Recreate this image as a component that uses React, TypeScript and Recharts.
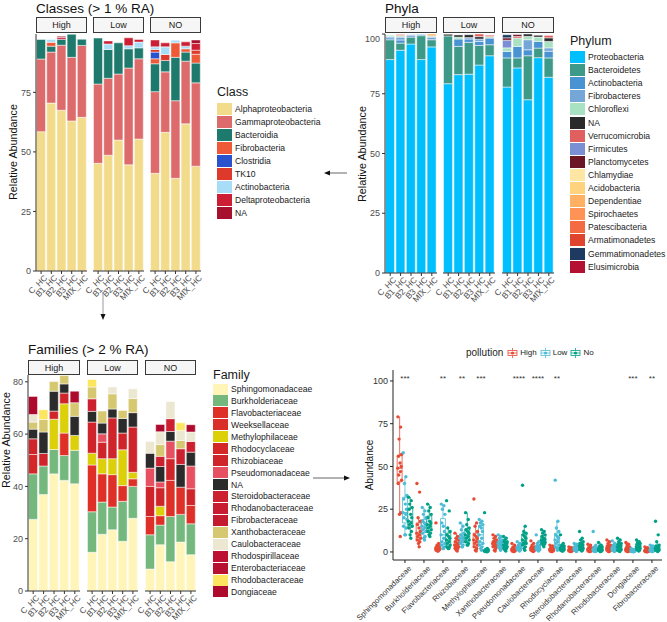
import React from 'react';
import { BarChart, Bar, XAxis, YAxis, ComposedChart, Scatter, ReferenceArea, ReferenceLine } from 'recharts';

const FONT = '"Liberation Sans", Arial, Helvetica, sans-serif';
const AXIS_TEXT = '#4d4d4d';
const AXIS_LINE = '#333333';

const SAMPLES = ['C_HC', 'B1_HC', 'B2_HC', 'B3_HC', 'MIX_HC'];
const FACETS = ['High', 'Low', 'NO'];

// ---- Classes (> 1 % RA) : 15 values = High x5 | Low x5 | NO x5 ----
const CLASS_NAMES = ['Alphaproteobacteria', 'Gammaproteobacteria', 'Bacteroidia', 'Fibrobacteria', 'Clostridia', 'TK10', 'Actinobacteria', 'Deltaproteobacteria', 'NA'];
const CLASS_COLORS = ['#F2DC8C', '#DD6B6B', '#1E7A6C', '#EE5A38', '#2952CC', '#DD3A2C', '#A7DDF7', '#CC1F35', '#A6122E'];
const alphaproteobacteria = [58.5, 70.5, 67.5, 63, 64.5, 45.2, 48.6, 55, 44.6, 55.4, 41, 58.2, 38.9, 61.8, 44];
const gammaproteobacteria = [30.5, 21.4, 27.3, 26.7, 30.2, 33.3, 32.3, 27.7, 40.6, 33.7, 34.3, 25.4, 32.6, 26.3, 35];
const bacteroidia = [8.2, 2.5, 2.5, 9.7, 2.6, 19.3, 12.1, 13.1, 8.1, 4.6, 11.7, 4.8, 18.2, 3.8, 8.3];
const fibrobacteria = [0, 1.6, 0, 0, 0, 0, 0, 0, 0, 0, 2.1, 0, 6.1, 1.4, 3.7];
const clostridia = [0, 0, 0, 0, 0, 0, 0, 0, 0, 0, 2.8, 0, 0, 0, 0];
const tk10 = [0, 0, 0, 0, 0, 0, 0, 0, 0, 0, 1.1, 2.5, 0, 0, 1.7];
const actinobacteria = [0, 1.2, 0, 0, 0, 0, 2.3, 0, 1.3, 2.4, 1.1, 3.2, 1.1, 1.1, 0];
const deltaproteobacteria = [0, 0, 0.8, 0, 0, 0, 1.3, 0, 3.3, 1.1, 2.9, 1.7, 0, 1.8, 2.8];
const classNA = [0, 0, 0.5, 0, 0, 0, 0, 0, 0, 0, 0, 0, 0, 0, 1.5];
const CLASS_VALUES = [alphaproteobacteria, gammaproteobacteria, bacteroidia, fibrobacteria, clostridia, tk10, actinobacteria, deltaproteobacteria, classNA];

// ---- Phyla ----
const PHYLUM_NAMES = ['Proteobacteria', 'Bacteroidetes', 'Actinobacteria', 'Fibrobacteres', 'Chloroflexi', 'NA', 'Verrucomicrobia', 'Firmicutes', 'Planctomycetes', 'Chlamydiae', 'Acidobacteria', 'Dependentiae', 'Spirochaetes', 'Patescibacteria', 'Armatimonadetes', 'Gemmatimonadetes', 'Elusimicrobia'];
const PHYLUM_COLORS = ['#00BFFF', '#3D9A88', '#4A93D2', '#74A6D8', '#A8E2C2', '#2A2A2A', '#E06060', '#7B8FD4', '#6B1525', '#FFE7A3', '#FFD27D', '#FFB062', '#FF9355', '#F46A42', '#E0432E', '#1E3A60', '#B31032'];
const proteobacteria = [89.3, 93.2, 95.8, 89.3, 94.6, 79.2, 83, 83.2, 87, 90.9, 77.8, 85.8, 72.5, 90.1, 81.9];
const bacteroidetes = [8.3, 3, 2.9, 10, 3, 20, 11.8, 13.3, 8.2, 4.6, 12.2, 4.2, 18.4, 4, 8.1];
const actinobacteriaP = [0.8, 1.3, 0.6, 0.5, 0, 0, 3.1, 1.4, 1.7, 2.8, 2.7, 4.8, 2.5, 2.8, 2.8];
const fibrobacteres = [0.6, 1.2, 0, 0, 1.1, 0, 0, 0.6, 1, 0, 0, 0, 4.2, 0, 1.4];
const chloroflexi = [0.5, 0.6, 0, 0, 0.5, 0, 0.8, 0, 0, 0.6, 1.5, 3.5, 1.4, 1.8, 2.7];
const phylumNA = [0, 0, 0, 0, 0, 0.7, 0.9, 1.2, 1, 0, 0, 0, 1, 0.8, 1.5];
const verrucomicrobia = [0, 0.4, 0, 0, 0, 0, 0, 0, 1.5, 0.6, 0, 0.7, 0, 0, 1];
const firmicutes = [0, 0, 0.4, 0, 0, 0, 0, 0, 0, 0, 3.2, 0, 0, 0, 0];
const planctomycetes = [0, 0, 0, 0, 0, 0, 0, 0, 0, 0, 1, 0.8, 0, 0, 0];
const chlamydiae = [0, 0, 0, 0, 0, 0, 0, 0, 0, 0, 0, 0, 0, 0, 0];
const acidobacteria = [0, 0, 0, 0, 0, 0, 0, 0, 0, 0, 0, 0, 0, 0, 0];
const dependentiae = [0, 0, 0, 0, 0.8, 0, 0, 0, 0, 0, 0, 0, 0, 0, 0];
const spirochaetes = [0, 0, 0, 0, 0, 0, 0, 0, 0, 0, 0, 0, 0, 0, 0];
const patescibacteria = [0, 0.3, 0, 0, 0, 0, 0, 0, 0, 0, 0, 0, 0, 0, 0];
const armatimonadetes = [0, 0, 0, 0, 0, 0, 0, 0, 0, 0, 0, 0, 0, 0, 0];
const gemmatimonadetes = [0, 0, 0, 0, 0, 0, 0, 0, 0, 0, 1.3, 0, 0, 0, 0];
const elusimicrobia = [0, 0, 0, 0, 0, 0, 0, 0, 0, 0, 0, 0, 0, 0, 0];
const PHYLUM_VALUES = [proteobacteria, bacteroidetes, actinobacteriaP, fibrobacteres, chloroflexi, phylumNA, verrucomicrobia, firmicutes, planctomycetes, chlamydiae, acidobacteria, dependentiae, spirochaetes, patescibacteria, armatimonadetes, gemmatimonadetes, elusimicrobia];

// ---- Families (> 2 % RA) ----
const FAMILY_NAMES = ['Sphingomonadaceae', 'Burkholderiaceae', 'Flavobacteriaceae', 'Weeksellaceae', 'Methylophilaceae', 'Rhodocyclaceae', 'Rhizobiaceae', 'Pseudomonadaceae', 'NA', 'Steroidobacteraceae', 'Rhodanobacteraceae', 'Fibrobacteraceae', 'Xanthobacteraceae', 'Caulobacteraceae', 'Rhodospirillaceae', 'Enterobacteriaceae', 'Rhodobacteraceae', 'Dongiaceae'];
const FAMILY_COLORS = ['#FFF5B8', '#74B87E', '#DF3028', '#DA2E2A', '#DCD00A', '#D42828', '#CF242A', '#E65060', '#2B2B2B', '#CC2030', '#C81A30', '#C41A30', '#D6C870', '#EBE7D0', '#BE1030', '#B81030', '#FCE660', '#AE0A2E'];
const sphingomonadaceae = [27.4, 36.9, 44.8, 42.3, 41, 14.8, 21.7, 23.4, 19, 27.8, 8.4, 17.7, 11.2, 18.7, 13.9];
const burkholderiaceae = [17.4, 10.9, 9.3, 9.5, 12.8, 15.5, 12.3, 8.7, 15.3, 12.2, 13.1, 7.5, 17.3, 10.6, 11.8];
const flavobacteriaceae = [0, 0, 0, 8.6, 0, 17.9, 10.8, 12.4, 6, 2.9, 7, 3.6, 13.8, 10.4, 7];
const weeksellaceae = [0, 0, 0, 0, 0, 0, 0, 0, 0, 0, 0, 0, 0, 0, 0];
const methylophilaceae = [0, 0, 11.6, 11.2, 5.7, 4.5, 5.8, 6.1, 13.7, 2.5, 0, 3.6, 0, 0, 0];
const rhodocyclaceae = [7.4, 0, 0, 0, 0, 0, 0, 0, 0, 0, 0, 0, 0, 0, 0];
const rhizobiaceae = [6, 4.8, 3.1, 4.1, 0, 11.9, 6.3, 15.6, 6.4, 17.3, 11.5, 7.1, 8.3, 0, 6.4];
const pseudomonadaceae = [0, 0, 0, 0, 0, 0, 3.2, 0, 0, 0, 7, 2.2, 6.7, 0, 8.7];
const familyNA = [3.7, 8.2, 7.6, 3.5, 7.3, 4.1, 4.1, 3.4, 5.6, 5.5, 5.7, 5.9, 3.7, 8.7, 5.3];
const steroidobacteraceae = [0, 0, 0, 0, 0, 4.8, 0, 0, 0, 0, 0, 3.9, 4.9, 6, 4.1];
const rhodanobacteraceae = [0, 0, 0, 0, 0, 0, 0, 0, 0, 0, 0, 0, 0, 0, 0];
const fibrobacteraceae = [0, 0, 0, 0, 0, 0, 0, 0, 0, 0, 0, 0, 0, 0, 0];
const xanthobacteraceae = [2.7, 4.8, 3.7, 3.2, 5.2, 4.5, 4.6, 5.8, 3, 5.4, 0, 4.5, 0, 3.2, 0];
const caulobacteraceae = [2.9, 0, 0, 0, 0, 0, 0, 2.6, 0, 3.7, 4.5, 4.9, 6.6, 3.8, 3.6];
const rhodospirillaceae = [0, 0, 0, 0, 0, 0, 0, 0, 0, 0, 0, 0, 0, 0, 0];
const enterobacteriaceae = [0, 0, 0, 0, 0, 0, 0, 0, 0, 0, 0, 0, 0, 0, 0];
const rhodobacteraceae = [0, 3.7, 0, 0, 0, 2.9, 0, 0, 0, 0, 0, 0, 0, 2.9, 0];
const dongiaceae = [6.9, 0, 0, 0, 4.4, 0, 0, 0, 0, 0, 0, 2.8, 0, 0, 2.8];
const FAMILY_VALUES = [sphingomonadaceae, burkholderiaceae, flavobacteriaceae, weeksellaceae, methylophilaceae, rhodocyclaceae, rhizobiaceae, pseudomonadaceae, familyNA, steroidobacteraceae, rhodanobacteraceae, fibrobacteraceae, xanthobacteraceae, caulobacteraceae, rhodospirillaceae, enterobacteriaceae, rhodobacteraceae, dongiaceae];

// ---- Abundance by pollution (box + jitter) ----
const BOX_CATS = ['Sphingomonadaceae', 'Burkholderiaceae', 'Flavobacteriaceae', 'Rhizobiaceae', 'Methylophilaceae', 'Xanthobacteraceae', 'Pseudomonadaceae', 'Caulobacteraceae', 'Rhodocyclaceae', 'Steroidobacteraceae', 'Rhodanobacteraceae', 'Rhodobacteraceae', 'Dongiaceae', 'Fibrobacteraceae'];
const SIGNIF = ['***', '', '**', '**', '***', '', '****', '****', '**', '', '', '', '***', '**'];
const POLLUTION = ['High', 'Low', 'No'];
const POLL_COLORS = ['#E64B35', '#4DBBD5', '#00A087'];
const highAbund = [
  [79, 73, 66, 57, 56, 52, 50, 49, 47, 45, 42, 40, 23, 22, 9],
  [40, 35, 20, 18, 16, 14, 12, 11, 10, 9, 8, 7, 6, 5, 3],
  [17, 5, 4, 3.5, 3, 3, 2.5, 2, 2, 1.5, 1.5, 1, 1, 0.5, 0.5],
  [11, 9, 8, 7, 6, 5, 5, 4, 4, 3, 3, 2, 2, 1, 0.5],
  [31, 17, 15, 12, 10, 9, 8, 7, 6, 5, 4, 3, 2, 1, 0.5],
  [10, 9, 8, 7, 6, 6, 5, 5, 4, 4, 3, 3, 2, 1, 0.5],
  [5, 4, 3, 2.5, 2, 2, 1.5, 1.5, 1, 1, 1, 0.5, 0.5, 0.3, 0.2],
  [6.5, 5, 4, 3, 3, 2.5, 2, 2, 1.5, 1.5, 1, 1, 0.5, 0.5, 0.3],
  [4, 3.5, 3, 2.5, 2, 2, 1.5, 1.5, 1, 1, 0.8, 0.5, 0.5, 0.3, 0.2],
  [3, 2.5, 2.5, 2, 2, 1.5, 1.5, 1, 1, 1, 0.8, 0.5, 0.5, 0.3, 0.2],
  [4.5, 4, 3, 2.5, 2, 2, 1.5, 1.5, 1, 1, 0.8, 0.5, 0.5, 0.3, 0.2],
  [7, 6, 5, 4, 3.5, 3, 2.5, 2, 2, 1.5, 1, 1, 0.5, 0.3, 0.2],
  [5.5, 4.5, 4, 3, 2.5, 2, 1.5, 1.5, 1, 1, 0.8, 0.5, 0.5, 0.3, 0.2],
  [3, 2.5, 2, 1.5, 1.2, 1, 1, 0.8, 0.6, 0.5, 0.4, 0.3, 0.2, 0.1, 0.1],
];
const lowAbund = [
  [58, 44, 40, 33, 31, 28, 25, 23, 22, 20, 19, 15, 14, 10, 10],
  [26, 24, 22, 20, 18, 17, 16, 15, 14, 13, 12, 11, 9, 8, 7],
  [28, 27, 25, 22, 17, 15, 12, 10, 8, 6, 5, 4, 3, 2, 2],
  [17, 15, 13, 11, 10, 9, 8, 8, 7, 6, 6, 5, 4, 3, 3],
  [19, 18, 17, 16, 15, 14, 12, 10, 8, 6, 5, 4, 3, 2, 1],
  [10, 9, 8, 7, 6, 6, 5, 5, 4, 4, 3, 3, 2, 2, 1],
  [6, 5, 4, 4, 3, 3, 3, 2.5, 2, 2, 2, 1.5, 1, 1, 0.5],
  [10, 6, 5, 4, 3.5, 3, 3, 2.5, 2, 2, 1.5, 1.5, 1, 1, 0.5],
  [42, 18, 14, 12, 10, 9, 8, 7, 6, 5, 4, 3, 2, 2, 1],
  [5, 4.5, 4, 3.5, 3, 3, 2.5, 2, 2, 1.5, 1.5, 1, 1, 0.5, 0.3],
  [12, 4, 3, 2.5, 2, 2, 1.5, 1.5, 1, 1, 0.8, 0.5, 0.5, 0.3, 0.2],
  [6.5, 5, 4, 3.5, 3, 3, 2.5, 2, 2, 1.5, 1, 1, 0.8, 0.5, 0.3],
  [2, 1.5, 1.2, 1, 1, 0.8, 0.8, 0.6, 0.5, 0.5, 0.4, 0.3, 0.3, 0.2, 0.1],
  [4, 3.5, 3, 2.5, 2, 2, 1.5, 1.2, 1, 1, 0.8, 0.5, 0.4, 0.3, 0.2],
];
const noAbund = [
  [32, 30, 28, 26, 25, 22, 20, 18, 17, 16, 15, 14, 12, 10, 8],
  [28, 26, 24, 22, 20, 18, 17, 16, 15, 14, 13, 12, 11, 10, 9],
  [30, 24, 14, 12, 10, 9, 8, 7, 6, 5, 4, 3, 3, 2, 2],
  [23, 19, 16, 14, 13, 12, 11, 10, 9, 8, 7, 6, 5, 4, 4],
  [23, 2, 1.5, 1.5, 1, 1, 1, 0.8, 0.5, 0.5, 0.5, 0.3, 0.3, 0.2, 0.1],
  [9, 8, 7, 6, 6, 5, 5, 4, 4, 3, 3, 2, 2, 1, 0.5],
  [39, 15, 12, 11, 10, 9, 8, 7, 6, 5, 5, 4, 3, 2, 1],
  [13, 12, 11, 10, 9, 8, 7.5, 7, 6.5, 6, 5.5, 5, 4.5, 4, 3],
  [10, 5, 4, 3.5, 3, 3, 2.5, 2, 2, 1.5, 1.5, 1, 1, 0.5, 0.5],
  [12, 8, 7, 6, 5, 4.5, 4, 3.5, 3, 2.5, 2, 1.5, 1, 1, 0.5],
  [5.5, 4, 3.5, 3, 2.5, 2, 2, 1.5, 1.5, 1, 1, 0.8, 0.5, 0.3, 0.2],
  [8, 7, 6, 5, 4.5, 4, 3.5, 3, 2.5, 2, 1.5, 1, 1, 0.5, 0.3],
  [7, 6, 5.5, 5, 4.5, 4, 3.5, 3, 2.5, 2, 2, 1.5, 1, 0.8, 0.5],
  [18, 10, 6, 4, 3.5, 3, 2.5, 2, 2, 1.5, 1.2, 1, 0.8, 0.5, 0.3],
];
const POLL_VALUES = [highAbund, lowAbund, noAbund];

// horizontal spread of jittered points (category units) and group dodge
const JITTER = [-0.09, 0.05, -0.03, 0.1, -0.06, 0.02, 0.08, -0.1, 0.04, -0.05, 0.1, -0.08, 0.06, -0.01, 0.03];
const DODGE = [-0.28, 0, 0.28];
const BOX_HALF = 0.13;

const quantile = (s: number[], p: number) => {
  const h = (s.length - 1) * p;
  const lo = Math.floor(h);
  const hi = Math.min(lo + 1, s.length - 1);
  return s[lo] + (s[hi] - s[lo]) * (h - lo);
};
const boxStats = (vals: number[]) => {
  const s = [...vals].sort((a, b) => a - b);
  const q1 = quantile(s, 0.25), med = quantile(s, 0.5), q3 = quantile(s, 0.75);
  const iqr = q3 - q1;
  const lo = s.filter((v) => v >= q1 - 1.5 * iqr)[0];
  const inHi = s.filter((v) => v <= q3 + 1.5 * iqr);
  return { q1, med, q3, lo, hi: inHi[inHi.length - 1] };
};

const makeRotTick = (fontSize: number, fill: string, dx: number, dy: number, fmt?: (v: any) => string) => (props: any) => {
  const { x, y, payload } = props;
  const label = fmt ? fmt(payload.value) : payload.value;
  const ax = x + dx, ay = y + dy;
  return (
    <text x={ax} y={ay} textAnchor="end" dominantBaseline="hanging" transform={`rotate(-45 ${ax} ${ay})`}
      fontSize={fontSize} fill={fill} fontFamily={FONT}>{label}</text>
  );
};
const sampleTick = makeRotTick(8.3, AXIS_TEXT, 2, -2);

type PanelProps = {
  names: string[]; colors: string[]; values: number[][];
  facetX: number[][]; stripTop: number; stripBottom: number;
  plotTop: number; plotBottom: number; yMax: number; yTicks: number[];
};

function FacetPanel(p: PanelProps) {
  const AXIS_W = 24, XAXIS_H = 31;
  return (
    <>
      {FACETS.map((f, fi) => {
        const [x0, x1] = p.facetX[fi];
        const rows = SAMPLES.map((s, j) => {
          const r: any = { sample: s };
          p.names.forEach((n, k) => { r[n] = p.values[k][fi * 5 + j]; });
          return r;
        });
        const first = fi === 0;
        return (
          <React.Fragment key={f}>
            <div style={{
              position: 'absolute', left: x0, top: p.stripTop, width: x1 - x0, height: p.stripBottom - p.stripTop,
              boxSizing: 'border-box', border: '1.3px solid #3a3a3a', background: '#f6f6f6', fontSize: 9,
              display: 'flex', alignItems: 'center', justifyContent: 'center', color: '#1a1a1a',
            }}>{f}</div>
            <div style={{ position: 'absolute', left: x0 - (first ? AXIS_W : 0), top: p.plotTop }}>
              <BarChart width={x1 - x0 + (first ? AXIS_W : 0)} height={p.plotBottom - p.plotTop + XAXIS_H} data={rows}
                margin={{ top: 0, right: 0, bottom: 0, left: 0 }} barCategoryGap="5%">
                <XAxis dataKey="sample" height={XAXIS_H} interval={0} tickSize={3} tick={sampleTick} stroke={AXIS_LINE} />
                <YAxis hide={!first} width={AXIS_W} type="number" domain={[0, p.yMax]} ticks={p.yTicks} allowDataOverflow
                  tickSize={3} tick={{ fontSize: 9, fill: AXIS_TEXT }} stroke={AXIS_LINE} />
                {p.names.map((n, k) => (
                  <Bar key={n} dataKey={n} stackId="s" fill={p.colors[k]} stroke="#ffffff" strokeWidth={0.5} isAnimationActive={false} />
                ))}
              </BarChart>
            </div>
          </React.Fragment>
        );
      })}
    </>
  );
}

type LegendProps = {
  title: string; names: string[]; colors: string[]; x: number; titleY: number;
  firstY: number; step: number; keyW: number; keyH: number; labelX: number; fontSize: number;
};

function KeyLegend(p: LegendProps) {
  return (
    <>
      <div style={{ position: 'absolute', left: p.x, top: p.titleY, transform: 'translateY(-50%)', fontSize: 12.5, lineHeight: 1, color: '#1a1a1a', whiteSpace: 'nowrap' }}>{p.title}</div>
      {p.names.map((n, i) => (
        <React.Fragment key={n}>
          <div style={{ position: 'absolute', left: p.x, top: p.firstY + i * p.step - p.keyH / 2, width: p.keyW, height: p.keyH, background: p.colors[i] }} />
          <div style={{ position: 'absolute', left: p.labelX, top: p.firstY + i * p.step, transform: 'translateY(-50%)', fontSize: p.fontSize, lineHeight: 1, whiteSpace: 'nowrap', color: '#1a1a1a' }}>{n}</div>
        </React.Fragment>
      ))}
    </>
  );
}

const Title = ({ x, y, text }: { x: number; y: number; text: string }) => (
  <div style={{ position: 'absolute', left: x, top: y, transform: 'translateY(-50%)', fontSize: 13.5, lineHeight: 1, color: '#111', whiteSpace: 'nowrap' }}>{text}</div>
);

const YTitle = ({ x, y, text, size }: { x: number; y: number; text: string; size: number }) => (
  <div style={{ position: 'absolute', left: x, top: y, transform: 'translate(-50%, -50%) rotate(-90deg)', fontSize: size, lineHeight: 1, color: '#111', whiteSpace: 'nowrap' }}>{text}</div>
);

const boxTick = makeRotTick(7.8, '#333', 3, 0, (v) => BOX_CATS[v - 1] ?? '');

function AbundanceChart() {
  const points = POLLUTION.map((_, g) =>
    BOX_CATS.flatMap((_, i) => POLL_VALUES[g][i].map((v, k) => ({ x: i + 1 + DODGE[g] + JITTER[k], y: v })))
  );
  const stars = SIGNIF.map((s, i) => ({ x: i + 1, y: 101, s })).filter((d) => d.s);
  const boxes: React.ReactNode[] = [];
  BOX_CATS.forEach((_, i) => {
    POLLUTION.forEach((pg, g) => {
      const st = boxStats(POLL_VALUES[g][i]);
      const cx = i + 1 + DODGE[g];
      const c = POLL_COLORS[g];
      boxes.push(
        <ReferenceLine key={`wl${i}${g}`} segment={[{ x: cx, y: st.lo }, { x: cx, y: st.q1 }]} stroke={c} strokeWidth={0.8} />,
        <ReferenceLine key={`wh${i}${g}`} segment={[{ x: cx, y: st.q3 }, { x: cx, y: st.hi }]} stroke={c} strokeWidth={0.8} />,
        <ReferenceArea key={`b${i}${g}`} x1={cx - BOX_HALF} x2={cx + BOX_HALF} y1={st.q1} y2={st.q3} stroke={c} strokeWidth={0.8} fill="#ffffff" fillOpacity={0} />,
        <ReferenceLine key={`m${i}${g}`} segment={[{ x: cx - BOX_HALF, y: st.med }, { x: cx + BOX_HALF, y: st.med }]} stroke={c} strokeWidth={1} />,
      );
    });
  });
  return (
    <div style={{ position: 'absolute', left: 363, top: 370 }}>
      <ComposedChart width={304} height={240} margin={{ top: 0, right: 5, bottom: 0, left: 0 }}>
        <XAxis dataKey="x" type="number" domain={[0.37, 14.53]} ticks={BOX_CATS.map((_, i) => i + 1)} allowDataOverflow
          interval={0} height={50} tickSize={3} tick={boxTick} stroke="#222" />
        <YAxis dataKey="y" type="number" domain={[-4.7, 106.4]} ticks={[0, 25, 50, 75, 100]} allowDataOverflow width={30}
          tickSize={3} tick={{ fontSize: 9, fill: '#333' }} stroke="#222" />
        {boxes}
        {points.map((d, g) => (
          <Scatter key={POLLUTION[g]} data={d} isAnimationActive={false}
            shape={(pp: any) => <circle cx={pp.cx} cy={pp.cy} r={1.7} fill={POLL_COLORS[g]} />} />
        ))}
        <Scatter data={stars} isAnimationActive={false}
          shape={(pp: any) => <text x={pp.cx} y={pp.cy} textAnchor="middle" dominantBaseline="middle" fontSize={8} fill="#333" fontFamily={FONT}>{pp.payload.s}</text>} />
      </ComposedChart>
    </div>
  );
}

const PollKey = ({ color }: { color: string }) => (
  <svg width={11} height={10} style={{ display: 'block' }}>
    <line x1={5.5} y1={0} x2={5.5} y2={10} stroke={color} strokeWidth={0.8} />
    <rect x={1} y={2.5} width={9} height={5} fill="#fff" stroke={color} strokeWidth={0.8} />
    <line x1={1} y1={5} x2={10} y2={5} stroke={color} strokeWidth={0.8} />
    <circle cx={5.5} cy={5} r={1.6} fill={color} />
  </svg>
);

export default function App() {
  return (
    <div style={{ position: 'absolute', left: 0, top: 0, width: 667, height: 622, background: '#fff', fontFamily: FONT, overflow: 'hidden' }}>
      <style>{'.recharts-surface{overflow:visible}.recharts-wrapper{overflow:visible}'}</style>
      {/* Classes */}
      <Title x={36} y={9} text="Classes (> 1 % RA)" />
      <YTitle x={13} y={152} text="Relative Abundance" size={10.8} />
      <FacetPanel names={CLASS_NAMES} colors={CLASS_COLORS} values={CLASS_VALUES}
        facetX={[[36, 87], [93, 144], [150, 201]]} stripTop={17} stripBottom={33}
        plotTop={34} plotBottom={271} yMax={99.5} yTicks={[0, 25, 50, 75]} />
      <KeyLegend title="Class" names={CLASS_NAMES} colors={CLASS_COLORS} x={217} titleY={92}
        firstY={109} step={13} keyW={15} keyH={12} labelX={235} fontSize={8.6} />

      {/* Phyla */}
      <Title x={385} y={9} text="Phyla" />
      <YTitle x={362} y={154} text="Relative Abundance" size={10.8} />
      <FacetPanel names={PHYLUM_NAMES} colors={PHYLUM_COLORS} values={PHYLUM_VALUES}
        facetX={[[385, 437], [443, 495], [502, 554]]} stripTop={17} stripBottom={33}
        plotTop={34} plotBottom={273} yMax={100} yTicks={[0, 25, 50, 75, 100]} />
      <KeyLegend title="Phylum" names={PHYLUM_NAMES} colors={PHYLUM_COLORS} x={570} titleY={40.5}
        firstY={57} step={13.1} keyW={15} keyH={12} labelX={588} fontSize={8.6} />

      {/* Families */}
      <Title x={28} y={350} text="Families (> 2 % RA)" />
      <YTitle x={6} y={440} text="Relative Abundance" size={10.8} />
      <FacetPanel names={FAMILY_NAMES} colors={FAMILY_COLORS} values={FAMILY_VALUES}
        facetX={[[28, 80], [87, 138], [145, 196]]} stripTop={360} stripBottom={375}
        plotTop={375} plotBottom={591} yMax={82.6} yTicks={[0, 20, 40, 60, 80]} />
      <KeyLegend title="Family" names={FAMILY_NAMES} colors={FAMILY_COLORS} x={213} titleY={374.5}
        firstY={389} step={11.94} keyW={15} keyH={11} labelX={231} fontSize={8.6} />

      {/* Abundance by pollution */}
      <div style={{ position: 'absolute', left: 466, top: 353, transform: 'translateY(-50%)', display: 'flex', alignItems: 'center', fontSize: 8, color: '#222', whiteSpace: 'nowrap', lineHeight: 1 }}>
        <span style={{ fontSize: 10, marginRight: 4 }}>pollution</span>
        {POLLUTION.map((pg, g) => (
          <React.Fragment key={pg}>
            <PollKey color={POLL_COLORS[g]} />
            <span style={{ marginLeft: 2, marginRight: 3 }}>{pg}</span>
          </React.Fragment>
        ))}
      </div>
      <YTitle x={370} y={465} text="Abundance" size={10} />
      <AbundanceChart />

      {/* connecting arrows */}
      <svg width={667} height={622} style={{ position: 'absolute', left: 0, top: 0, pointerEvents: 'none' }}>
        <line x1={347} y1={173} x2={329} y2={173} stroke="#666" strokeWidth={1} />
        <polygon points="324,173 330,170.5 330,175.5" fill="#111" />
        <line x1={103} y1={292} x2={103} y2={315} stroke="#999" strokeWidth={1} />
        <polygon points="103,320 100.5,314 105.5,314" fill="#111" />
        <line x1={313} y1={478} x2={345} y2={478} stroke="#666" strokeWidth={1} />
        <polygon points="350,478 344,475.5 344,480.5" fill="#111" />
      </svg>
    </div>
  );
}
